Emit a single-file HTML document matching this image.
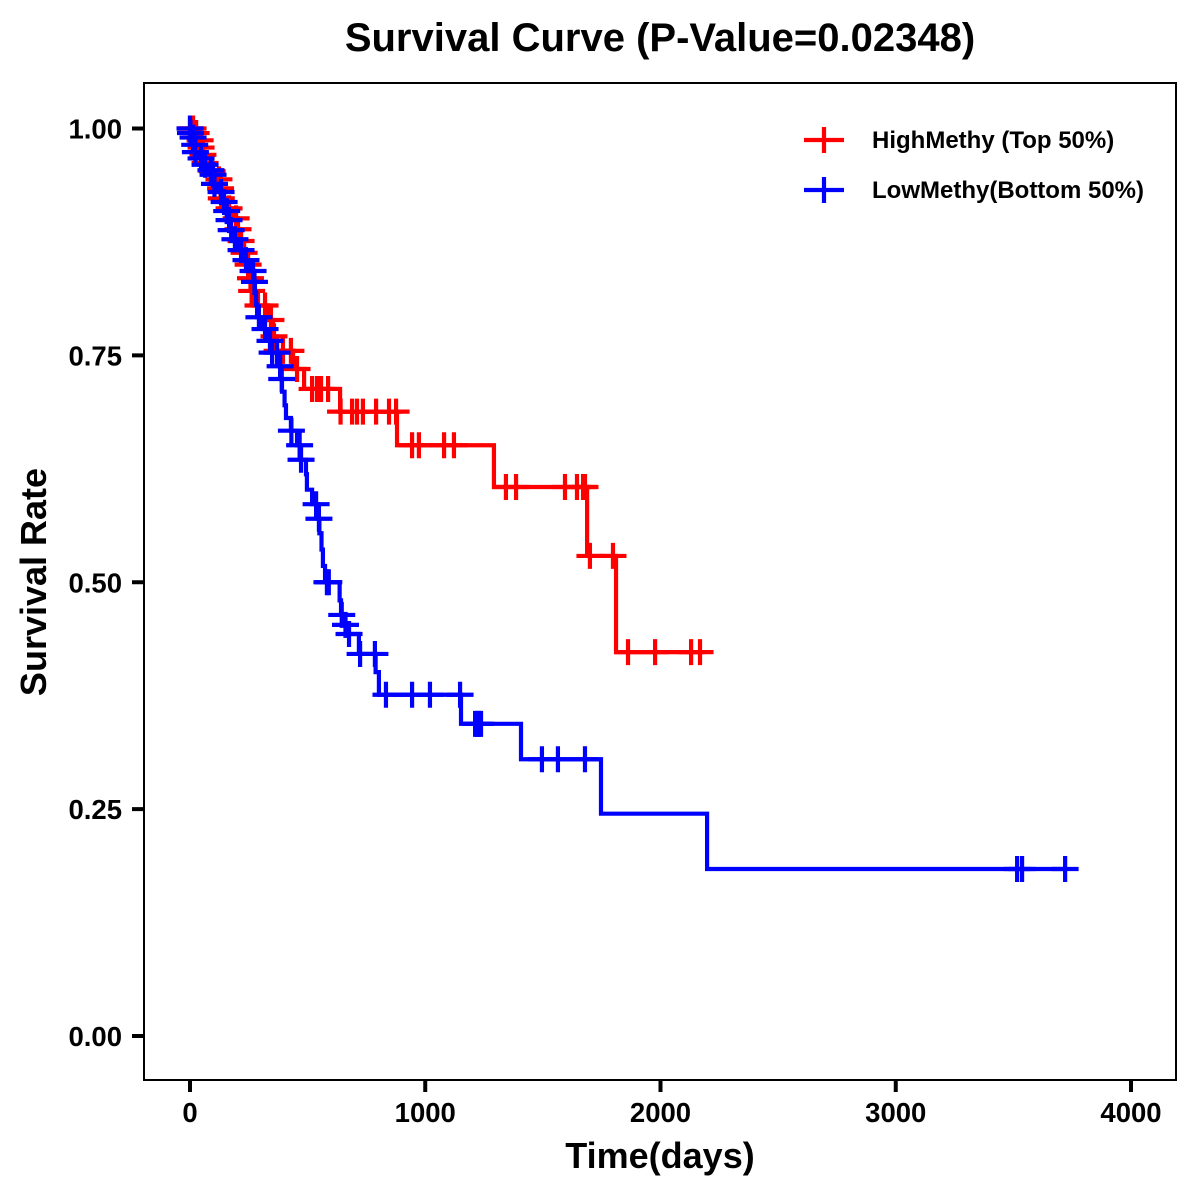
<!DOCTYPE html>
<html lang="en">
<head>
<meta charset="utf-8">
<title>Survival Curve</title>
<style>
html,body{margin:0;padding:0;background:#fff;}
svg{display:block;}
text{font-family:"Liberation Sans",Arial,sans-serif;font-weight:bold;fill:#000;}
</style>
</head>
<body>
<svg id="chart" xmlns="http://www.w3.org/2000/svg" width="1200" height="1200" viewBox="0 0 1200 1200">
  <rect x="0" y="0" width="1200" height="1200" fill="#fff"/>
  <text x="660" y="51" text-anchor="middle" font-size="40">Survival Curve (P-Value=0.02348)</text>
  <text x="660" y="1168" text-anchor="middle" font-size="36">Time(days)</text>
  <text transform="translate(46,582) rotate(-90)" text-anchor="middle" font-size="36">Survival Rate</text>
  <g id="curves"></g>
  <rect x="144" y="83" width="1032" height="997" fill="none" stroke="#000" stroke-width="2"/>
  <g id="axes"></g>
  <g>
    <g>
      <path d="M804 140H844M824 127V153" stroke="#f00" stroke-width="4.2" fill="none"/>
      <text x="872" y="148" font-size="24">HighMethy (Top 50%)</text>
    </g>
    <g>
      <path d="M804 190H844M824 177V203" stroke="#00f" stroke-width="4.2" fill="none"/>
      <text x="872" y="198" font-size="24">LowMethy(Bottom 50%)</text>
    </g>
  </g>
</svg>
<script>
var xTicks = [0, 1000, 2000, 3000, 4000];
var yTicks = [0, 0.25, 0.5, 0.75, 1];
var yTickLabels = ["0.00", "0.25", "0.50", "0.75", "1.00"];

var highStepTime = [0,21,34,45,51,60,77,106,128,132,149,179,200,213,225,242,255,259,276,332,353,366,438,485,638,880,1292,1688,1811];
var highStepSurv = [1,.995,.987,.979,.971,.962,.953,.944,.934,.923,.912,.901,.889,.876,.863,.850,.835,.821,.805,.789,.771,.755,.735,.713,.688,.651,.605,.529,.423];
var highCensorTime = [0,5,13,26,43,47,55,64,94,123,130,133,166,196,204,217,230,247,257,262,289,319,344,357,370,395,429,455,519,540,557,587,640,689,710,735,791,846,876,944,973,1080,1122,1343,1386,1594,1645,1671,1679,1700,1798,1862,1977,2130,2168];

var lowStepTime = [0,1,9,19,21,34,55,77,94,102,119,140,153,162,170,183,204,230,255,272,276,281,285,310,332,344,378,387,391,402,408,429,455,468,493,497,519,544,550,559,565,574,636,642,659,672,718,789,803,1152,1407,1747,2198];
var lowStepSurv = [1,.995,.990,.982,.974,.967,.960,.954,.949,.939,.930,.919,.909,.899,.888,.878,.866,.855,.843,.831,.819,.806,.792,.779,.766,.753,.738,.724,.710,.695,.681,.667,.651,.635,.619,.602,.586,.570,.554,.536,.518,.500,.480,.464,.453,.443,.421,.401,.376,.344,.305,.245,.184];
var lowCensorTime = [0,2,13,20,23,47,64,89,98,104,132,145,156,166,175,191,217,238,268,274,293,319,340,349,370,383,390,431,466,472,536,548,582,590,645,661,676,723,786,833,944,1020,1148,1212,1220,1229,1237,1496,1564,1679,3516,3537,3720];

var NS = "http://www.w3.org/2000/svg";
var xDomain = [0, 4000], xRange = [190, 1131];
var yDomain = [0, 1], yRange = [1036, 128.5];

function xScale(t) {
  return xRange[0] + (t - xDomain[0]) / (xDomain[1] - xDomain[0]) * (xRange[1] - xRange[0]);
}
function yScale(s) {
  return yRange[0] + (s - yDomain[0]) / (yDomain[1] - yDomain[0]) * (yRange[1] - yRange[0]);
}
function survivalAt(stepTime, stepSurv, t) {
  var value = stepSurv[0];
  for (var i = 0; i < stepTime.length; i++) {
    if (stepTime[i] <= t) { value = stepSurv[i]; }
  }
  return value;
}

var axes = document.getElementById("axes");
xTicks.forEach(function (v) {
  var tick = document.createElementNS(NS, "line");
  
  
  tick.setAttribute("x1", xScale(v));
  tick.setAttribute("x2", xScale(v));
  tick.setAttribute("y1", 1081);
  tick.setAttribute("y2", 1092);
  tick.setAttribute("stroke", "#000");
  tick.setAttribute("stroke-width", 4);
  axes.appendChild(tick);
  var label = document.createElementNS(NS, "text");
  
  
  label.setAttribute("x", xScale(v));
  label.setAttribute("y", 1122);
  label.setAttribute("text-anchor", "middle");
  label.setAttribute("font-size", 27.5);
  label.textContent = String(v);
  axes.appendChild(label);
});
yTicks.forEach(function (v, i) {
  var tick = document.createElementNS(NS, "line");
  
  
  tick.setAttribute("x1", 132);
  tick.setAttribute("x2", 143);
  tick.setAttribute("y1", yScale(v));
  tick.setAttribute("y2", yScale(v));
  tick.setAttribute("stroke", "#000");
  tick.setAttribute("stroke-width", 4);
  axes.appendChild(tick);
  var label = document.createElementNS(NS, "text");
  
  
  label.setAttribute("x", 122);
  label.setAttribute("y", yScale(v) + 10);
  label.setAttribute("text-anchor", "end");
  label.setAttribute("font-size", 27.5);
  label.textContent = yTickLabels[i];
  axes.appendChild(label);
});

function drawSeries(stepTime, stepSurv, censorTime, color, seriesName) {
  var group = document.createElementNS(NS, "g");
  
  
  var d = "M" + xScale(stepTime[0]) + " " + yScale(stepSurv[0]);
  for (var i = 1; i < stepTime.length; i++) {
    d += "H" + xScale(stepTime[i]) + "V" + yScale(stepSurv[i]);
  }
  var lastTime = Math.max(stepTime[stepTime.length - 1], censorTime[censorTime.length - 1]);
  d += "H" + xScale(lastTime);
  var line = document.createElementNS(NS, "path");
  
  
  line.setAttribute("d", d);
  line.setAttribute("fill", "none");
  line.setAttribute("stroke", color);
  line.setAttribute("stroke-width", 4.2);
  group.appendChild(line);
  censorTime.forEach(function (t) {
    var cx = xScale(t);
    var cy = yScale(survivalAt(stepTime, stepSurv, t));
    var mark = document.createElementNS(NS, "path");
    
    
    mark.setAttribute("d", "M" + (cx - 13.5) + " " + cy + "H" + (cx + 13.5) + "M" + cx + " " + (cy - 13) + "V" + (cy + 13));
    mark.setAttribute("fill", "none");
    mark.setAttribute("stroke", color);
    mark.setAttribute("stroke-width", 4.2);
    group.appendChild(mark);
  });
  document.getElementById("curves").appendChild(group);
}

drawSeries(highStepTime, highStepSurv, highCensorTime, "#f00", "series-high-methy");
drawSeries(lowStepTime, lowStepSurv, lowCensorTime, "#00f", "series-low-methy");
</script>
</body>
</html>
